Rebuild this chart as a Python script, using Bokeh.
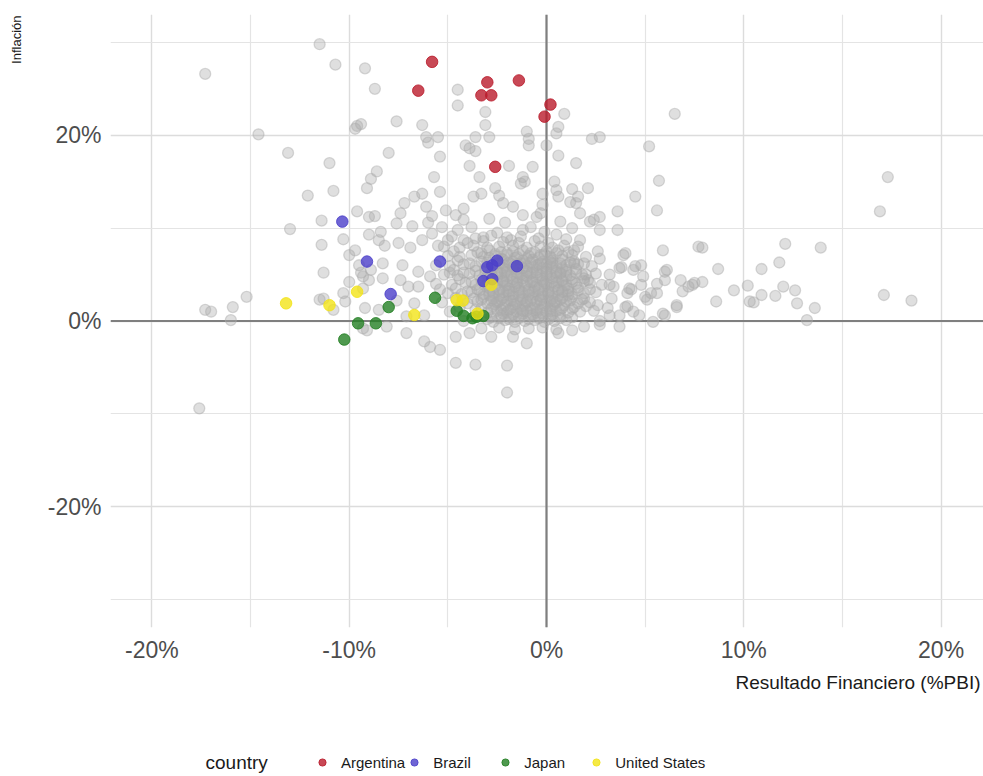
from bokeh.plotting import figure
from bokeh.layouts import column
from bokeh.models import (Range1d, FixedTicker, PrintfTickFormatter, Span, Title, Label,
                          Legend, LegendItem)
from bokeh.embed import file_html
from bokeh.resources import INLINE

# ---------------- data (x = Resultado Financiero %PBI, y = Inflación %) ----------------
argentina_x = [-5.8, -6.5, -3.0, -3.3, -2.8, -1.4, 0.2, -0.1, -2.6]
argentina_y = [27.9, 24.8, 25.7, 24.3, 24.3, 25.9, 23.3, 22.0, 16.6]

brazil_x = [-10.35, -9.1, -5.4, -7.9, -3.0, -2.75, -2.5, -1.5, -3.2, -2.75]
brazil_y = [10.7, 6.4, 6.4, 2.9, 5.8, 6.0, 6.5, 5.9, 4.3, 4.5]

japan_x = [-10.25, -9.55, -8.65, -8.0, -5.65, -4.55, -4.2, -3.75, -3.55, -3.2]
japan_y = [-2.0, -0.25, -0.25, 1.5, 2.5, 1.1, 0.55, 0.3, 0.45, 0.55]

us_x = [-13.2, -11.0, -9.6, -6.7, -4.55, -4.25, -2.8, -3.5]
us_y = [1.9, 1.7, 3.15, 0.65, 2.25, 2.2, 3.9, 0.8]

countries = ["Argentina", "Brazil", "Japan", "United States"]

# other countries (grey), grouped by region of the chart
other_left = [(-17.3, 26.6), (-11.5, 29.8), (-14.6, 20.1), (-13.1, 18.1), (-12.1, 13.5),
              (-13.0, 9.9), (-11.4, 10.8), (-10.7, 27.6), (-11.0, 17.0), (-10.8, 14.0),
              (-9.2, 27.2), (-8.7, 25.0), (-9.6, 21.0), (-9.4, 21.2), (-7.6, 21.5),
              (-8.0, 18.1), (-8.6, 16.1), (-8.9, 15.3), (-9.1, 14.3), (-9.6, 11.8),
              (-9.0, 11.2), (-8.7, 11.3), (-10.3, 8.8), (-11.4, 8.2), (-9.0, 9.3),
              (-8.5, 8.7), (-8.2, 8.1), (-10.0, 7.1), (-9.7, 7.6), (-8.3, 6.2),
              (-11.3, 5.2), (-9.3, 4.8), (-15.2, 2.6), (-15.9, 1.5), (-17.3, 1.2),
              (-17.0, 1.0), (-16.0, 0.1), (-11.5, 2.3), (-10.2, 2.1), (-10.8, 1.2),
              (-11.3, 2.4), (-17.6, -9.4), (-9.7, 20.7), (-10.0, 4.2), (-9.4, 5.2)]

other_upper = [(-4.5, 24.9), (-4.5, 23.2), (-3.1, 22.5), (-3.1, 21.1), (-6.3, 21.1),
               (-6.1, 19.8), (-6.0, 19.2), (-5.5, 19.8), (-5.4, 17.7), (-4.1, 18.9),
               (-3.9, 18.6), (-3.6, 18.3), (-3.6, 19.8), (-2.9, 19.8), (-3.4, 15.5),
               (-3.9, 16.7), (-1.9, 16.7), (-1.0, 20.4), (-0.9, 19.6), (-0.9, 18.9),
               (-0.7, 16.6), (-1.2, 15.5), (-1.3, 14.8), (-0.2, 13.7), (-0.2, 12.5),
               (-5.7, 15.5), (-5.4, 13.9), (-7.2, 12.7), (-6.7, 13.4), (-6.3, 13.7),
               (-6.1, 12.3), (-7.4, 11.6), (-7.6, 10.5), (-5.1, 11.9), (-4.2, 12.1),
               (-3.7, 13.4), (-3.3, 13.7), (-2.6, 14.3), (-2.4, 13.5), (-2.2, 12.7),
               (-1.7, 12.3), (-1.2, 11.4), (-0.5, 11.2), (-4.6, 11.4), (-4.2, 10.9),
               (-5.8, 11.3)]

other_right = [(6.5, 22.3), (0.9, 22.3), (0.5, 20.2), (0.6, 20.9), (2.3, 19.6),
               (2.7, 19.8), (5.2, 18.8), (0.0, 18.9), (0.6, 17.8), (1.5, 17.0),
               (5.7, 15.1), (-1.1, 15.0), (0.4, 15.0), (0.5, 14.1), (0.6, 13.4),
               (1.6, 13.4), (2.1, 14.3), (1.5, 12.7), (4.5, 13.4), (5.6, 11.9),
               (3.6, 11.8), (2.7, 11.2), (2.2, 10.7), (1.7, 11.6), (-0.3, 11.6),
               (2.7, 9.8), (3.6, 9.8), (5.9, 7.6), (7.7, 8.0), (3.9, 7.1),
               (4.8, 6.0), (1.9, 6.2), (3.2, 5.0), (4.4, 5.5), (4.9, 4.8),
               (6.0, 5.3), (6.8, 4.4), (7.2, 3.7), (7.5, 4.1), (5.3, 3.0),
               (6.6, 1.7), (3.4, 3.7), (4.1, 3.0), (5.0, 2.6), (4.4, 1.0),
               (3.1, 1.4), (3.7, 0.6), (2.7, -0.4), (1.2, 12.8), (1.3, 14.2)]

other_far_right = [(17.3, 15.5), (16.9, 11.8), (17.1, 2.8), (18.5, 2.2), (12.1, 8.3),
                   (13.9, 7.9), (11.8, 6.3), (10.9, 5.6), (7.9, 7.9), (8.7, 5.6),
                   (7.9, 4.2), (7.4, 3.9), (6.9, 3.2), (9.5, 3.3), (10.2, 3.8),
                   (10.9, 2.8), (10.5, 2.0), (10.3, 2.1), (11.6, 2.7), (12.0, 3.7),
                   (12.6, 3.3), (12.7, 1.9), (13.6, 1.4), (13.2, 0.1), (8.6, 2.1),
                   (6.6, 1.5), (6.0, 0.6), (5.4, -0.1), (3.7, -0.6), (2.7, 0.0),
                   (1.9, -0.6), (1.3, -1.0), (0.6, -1.3), (2.4, 10.9), (2.6, 7.5),
                   (2.7, 6.7), (3.8, 5.8), (4.2, 3.5), (5.6, 3.0), (6.1, 5.5),
                   (4.8, 3.9), (3.2, 3.9), (2.6, 1.7), (3.2, 0.6), (4.0, 1.5),
                   (5.9, 0.8), (1.4, 7.6), (1.7, 8.7), (0.7, 10.7), (1.3, 10.0),
                   (4.0, 7.3), (1.4, 6.2), (6.0, 4.4), (5.6, 4.0), (4.5, 5.9),
                   (4.3, 3.4), (5.1, 2.3), (4.7, 0.6), (4.1, 1.6), (3.3, 2.4),
                   (2.0, 5.0), (2.1, 4.4), (3.7, 5.7)]

other_negative = [(-7.1, -1.3), (-6.2, -2.2), (-5.9, -2.8), (-5.4, -3.1), (-4.6, -4.5),
                  (-3.6, -4.7), (-2.0, -4.8), (-2.0, -7.7), (-1.0, -2.4), (-1.7, -1.7),
                  (-2.8, -1.7), (-3.9, -1.3), (-4.6, -1.7), (-9.3, -0.8), (-8.1, -0.6),
                  (-9.1, -1.0)]

other_mid = [(-8.4, 9.6), (-7.5, 8.4), (-6.9, 7.9), (-6.3, 8.7), (-5.8, 9.4),
             (-5.5, 8.1), (-5.0, 8.7), (-4.5, 9.8), (-4.2, 8.7), (-3.8, 10.1),
             (-3.2, 9.0), (-2.5, 9.5), (-1.8, 8.7), (-1.2, 9.8), (-0.8, 10.1),
             (-9.5, 6.0), (-8.9, 5.5), (-9.0, 4.4), (-8.3, 4.6), (-10.3, 3.0),
             (-9.3, 3.5), (-9.2, 1.4), (-8.5, 1.2), (-7.3, 6.0), (-7.4, 4.4),
             (-7.0, 3.7), (-6.5, 5.3), (-6.5, 3.7), (-6.7, 1.9), (-7.6, 2.2),
             (-7.1, 0.5), (-6.2, 0.6), (-5.9, 4.8), (-5.4, 3.4), (-4.9, 5.2),
             (-6.8, 10.2), (-6.0, 10.6), (-5.3, 10.1), (-2.9, 11.0), (-2.1, 10.6),
             (-0.1, 9.6), (0.5, 9.3)]

other_core = [(-4.8, 9.1), (-3.6, 8.9), (-2.8, 9.2), (-2.0, 9.0), (-1.3, 9.1), (-0.4, 8.9), (1.0, 8.8),
              (-4.0, 8.4), (-3.2, 8.6), (-2.2, 8.5), (-1.4, 8.4), (-0.6, 8.6), (0.1, 8.4),
              (-5.2, 8.0), (-4.4, 7.9), (-3.7, 8.1), (-3.0, 7.9), (-2.4, 8.0), (-1.7, 8.1),
              (-1.0, 7.9), (-0.3, 8.0), (0.3, 7.9), (0.9, 8.1), (1.6, 8.0),
              (-4.7, 7.5), (-3.5, 7.4), (-2.9, 7.6), (-2.3, 7.4), (-1.7, 7.5), (-1.2, 7.6),
              (-0.6, 7.4), (0.0, 7.5), (0.6, 7.6), (1.1, 7.4),
              (-5.0, 7.0), (-4.4, 6.9), (-3.8, 7.1), (-3.2, 6.9), (-2.6, 7.0), (-2.0, 7.1),
              (-1.5, 6.9), (-0.9, 7.0), (-0.3, 7.1), (0.2, 6.9), (0.8, 7.0), (1.3, 7.1), (2.0, 6.9),
              (-4.5, 6.5), (-3.3, 6.4), (-2.2, 6.6), (-1.7, 6.4), (-1.2, 6.5), (-0.7, 6.6),
              (-0.2, 6.4), (0.3, 6.5), (0.8, 6.6), (1.4, 6.4),
              (-5.6, 6.0), (-4.9, 5.9), (-4.2, 6.1), (-3.6, 5.9), (-2.1, 6.0), (-1.5, 6.1),
              (-1.0, 5.9), (-0.5, 6.0), (0.0, 6.1), (0.5, 5.9), (1.0, 6.0), (1.6, 6.1), (2.3, 5.9),
              (-4.7, 5.5), (-3.6, 5.4), (-3.1, 5.6), (-2.5, 5.4), (-2.0, 5.5), (-1.5, 5.6),
              (-1.0, 5.4), (-0.5, 5.5), (0.0, 5.6), (0.5, 5.4), (1.0, 5.5), (1.5, 5.6),
              (-5.2, 5.0), (-4.5, 4.9), (-3.9, 5.1), (-3.4, 4.9), (-2.8, 5.0), (-2.3, 5.1),
              (-1.8, 4.9), (-1.3, 5.0), (-0.8, 5.1), (-0.3, 4.9), (0.2, 5.0), (0.7, 5.1),
              (1.2, 4.9), (1.8, 5.0), (2.5, 5.1),
              (-4.4, 4.5), (-3.3, 4.4), (-2.7, 4.6), (-2.2, 4.4), (-1.7, 4.5), (-1.2, 4.6),
              (-0.7, 4.4), (-0.2, 4.5), (0.3, 4.6), (0.8, 4.4), (1.3, 4.5), (1.9, 4.6),
              (-5.6, 4.0), (-4.8, 3.9), (-4.1, 4.1), (-3.6, 3.9), (-3.0, 4.0), (-2.5, 4.1),
              (-2.0, 3.9), (-1.5, 4.0), (-1.0, 4.1), (-0.5, 3.9), (0.0, 4.0), (0.5, 4.1),
              (1.0, 3.9), (1.5, 4.0), (2.2, 4.1), (2.8, 3.9),
              (-4.6, 3.5), (-3.5, 3.4), (-2.9, 3.6), (-2.4, 3.4), (-1.9, 3.5), (-1.4, 3.6),
              (-0.9, 3.4), (-0.4, 3.5), (0.1, 3.6), (0.6, 3.4), (1.1, 3.5), (1.6, 3.6), (2.2, 3.4),
              (-5.0, 3.0), (-4.3, 2.9), (-3.8, 3.1), (-3.2, 2.9), (-2.7, 3.0), (-2.2, 3.1),
              (-1.7, 2.9), (-1.2, 3.0), (-0.7, 3.1), (-0.2, 2.9), (0.3, 3.0), (0.8, 3.1),
              (1.3, 2.9), (1.9, 3.0), (2.5, 3.1),
              (-4.6, 2.5), (-3.7, 2.4), (-3.2, 2.6), (-2.7, 2.4), (-2.2, 2.5), (-1.7, 2.6),
              (-1.2, 2.4), (-0.7, 2.5), (-0.2, 2.6), (0.3, 2.4), (0.8, 2.5), (1.3, 2.6), (1.9, 2.4),
              (-5.3, 2.0), (-4.0, 1.9), (-3.5, 2.1), (-3.0, 1.9), (-2.5, 2.0), (-2.0, 2.1),
              (-1.5, 1.9), (-1.0, 2.0), (-0.5, 2.1), (0.0, 1.9), (0.5, 2.0), (1.0, 2.1),
              (1.6, 1.9), (2.2, 2.0),
              (-4.4, 1.5), (-3.3, 1.4), (-2.7, 1.6), (-2.2, 1.4), (-1.7, 1.5), (-1.2, 1.6),
              (-0.7, 1.4), (-0.2, 1.5), (0.3, 1.6), (0.8, 1.4), (1.4, 1.5), (2.0, 1.6),
              (-4.9, 1.0), (-3.0, 0.9), (-2.5, 1.1), (-2.0, 0.9), (-1.5, 1.0), (-1.0, 1.1),
              (-0.5, 0.9), (0.0, 1.0), (0.5, 1.1), (1.1, 0.9), (1.7, 1.0), (2.4, 1.1),
              (-3.6, 0.5), (-2.8, 0.4), (-2.3, 0.6), (-1.8, 0.4), (-1.3, 0.5), (-0.8, 0.6),
              (-0.3, 0.4), (0.2, 0.5), (0.7, 0.6), (1.3, 0.4),
              (-4.2, 0.0), (-2.7, -0.1), (-2.1, 0.1), (-1.6, -0.1), (-1.1, 0.0), (-0.6, 0.1),
              (-0.1, -0.1), (0.4, 0.0), (1.0, 0.1),
              (-3.3, -0.8), (-2.4, -0.7), (-1.6, -0.9), (-0.9, -0.8), (-0.2, -0.7), (0.5, -0.9)]

other_core_dense = [(-3.3, 7.3), (-2.6, 7.2), (-2.0, 7.3), (-1.4, 7.2), (-0.8, 7.3), (-0.1, 7.2), (0.5, 7.3),
                    (-3.9, 6.2), (-3.0, 6.3), (-2.4, 6.2), (-1.9, 6.3), (-1.3, 6.2), (-0.8, 6.3),
                    (-0.3, 6.2), (0.2, 6.3), (0.7, 6.2), (1.2, 6.3),
                    (-4.2, 5.2), (-3.1, 5.3), (-2.5, 5.2), (-2.0, 5.3), (-1.5, 5.2), (-1.0, 5.3),
                    (-0.5, 5.2), (0.0, 5.3), (0.5, 5.2), (1.0, 5.3), (1.5, 5.2),
                    (-3.8, 4.2), (-3.2, 4.3), (-2.7, 4.2), (-2.2, 4.3), (-1.7, 4.2), (-1.2, 4.3),
                    (-0.7, 4.2), (-0.2, 4.3), (0.3, 4.2), (0.8, 4.3), (1.3, 4.2), (1.9, 4.3),
                    (-4.0, 3.2), (-3.4, 3.3), (-2.9, 3.2), (-2.4, 3.3), (-1.9, 3.2), (-1.4, 3.3),
                    (-0.9, 3.2), (-0.4, 3.3), (0.1, 3.2), (0.6, 3.3), (1.1, 3.2), (1.6, 3.3),
                    (-4.2, 2.2), (-3.3, 2.3), (-2.8, 2.2), (-2.3, 2.3), (-1.8, 2.2), (-1.3, 2.3),
                    (-0.8, 2.2), (-0.3, 2.3), (0.2, 2.2), (0.7, 2.3), (1.2, 2.2), (1.8, 2.3),
                    (-3.6, 1.2), (-2.8, 1.3), (-2.3, 1.2), (-1.8, 1.3), (-1.3, 1.2), (-0.8, 1.3),
                    (-0.3, 1.2), (0.2, 1.3), (0.7, 1.2), (1.3, 1.3),
                    (-3.0, 0.2), (-2.4, 0.3), (-1.9, 0.2), (-1.4, 0.3), (-0.9, 0.2), (-0.4, 0.3),
                    (0.1, 0.2), (0.7, 0.3)]

other_center = [(-2.9, 6.8), (-2.3, 6.7), (-1.6, 6.8), (-1.0, 6.7), (-0.4, 6.8), (0.2, 6.7),
                (-2.7, 5.8), (-2.2, 5.7), (-1.7, 5.8), (-1.2, 5.7), (-0.7, 5.8), (-0.2, 5.7), (0.3, 5.8), (0.8, 5.7),
                (-3.0, 4.8), (-2.5, 4.7), (-2.0, 4.8), (-1.5, 4.7), (-1.0, 4.8), (-0.5, 4.7), (0.0, 4.8), (0.5, 4.7), (1.0, 4.8),
                (-3.1, 3.8), (-2.6, 3.7), (-2.1, 3.8), (-1.6, 3.7), (-1.1, 3.8), (-0.6, 3.7), (-0.1, 3.8), (0.4, 3.7), (0.9, 3.8),
                (-2.9, 2.8), (-2.4, 2.7), (-1.9, 2.8), (-1.4, 2.7), (-0.9, 2.8), (-0.4, 2.7), (0.1, 2.8), (0.6, 2.7), (1.1, 2.8),
                (-2.6, 1.8), (-2.1, 1.7), (-1.6, 1.8), (-1.1, 1.7), (-0.6, 1.8), (-0.1, 1.7), (0.4, 1.8), (0.9, 1.7),
                (-2.2, 0.8), (-1.7, 0.7), (-1.2, 0.8), (-0.7, 0.7), (-0.2, 0.8), (0.3, 0.7)]

other_center_inner = [(-2.5, 6.2), (-1.8, 6.1), (-1.1, 6.2), (-0.4, 6.1), (0.3, 6.2),
                      (-2.8, 5.1), (-2.1, 5.2), (-1.4, 5.1), (-0.7, 5.2), (0.0, 5.1), (0.7, 5.2),
                      (-2.9, 4.1), (-2.2, 4.2), (-1.5, 4.1), (-0.8, 4.2), (-0.1, 4.1), (0.6, 4.2),
                      (-2.7, 3.1), (-2.0, 3.2), (-1.3, 3.1), (-0.6, 3.2), (0.1, 3.1), (0.8, 3.2),
                      (-2.4, 2.1), (-1.7, 2.2), (-1.0, 2.1), (-0.3, 2.2), (0.4, 2.1),
                      (-1.9, 1.2), (-1.2, 1.1), (-0.5, 1.2), (0.2, 1.1)]

x_ticks = [-20, -10, 0, 10, 20]
x_minor = [-15, -5, 5, 15]
y_ticks = [-20, 0, 20]
y_minor = [-30, -10, 10, 30]

# ---------------- main figure ----------------
FONT = "Liberation Sans"
colors = ["#BA1B2C", "#4B3FC9", "#237F23", "#F2E318"]

p = figure(width=983, height=736, output_backend="svg", toolbar_location=None,
           x_range=Range1d(-22.1, 22.15), y_range=Range1d(-33, 33),
           min_border_left=110, min_border_right=0, min_border_top=14, min_border_bottom=109)
p.outline_line_color = None
p.background_fill_color = "white"
p.border_fill_color = "white"

p.xaxis.ticker = FixedTicker(ticks=x_ticks, minor_ticks=x_minor)
p.yaxis.ticker = FixedTicker(ticks=y_ticks, minor_ticks=y_minor)
for ax in (p.xaxis[0], p.yaxis[0]):
    ax.formatter = PrintfTickFormatter(format="%d%%")
    ax.axis_line_color = None
    ax.major_tick_line_color = None
    ax.minor_tick_line_color = None
    ax.major_tick_out = 0
    ax.major_tick_in = 0
    ax.minor_tick_out = 0
    ax.minor_tick_in = 0
    ax.major_label_text_font = FONT
    ax.major_label_text_font_size = "23px"
    ax.major_label_text_color = "#4D4D4D"
p.xaxis.major_label_standoff = 9
p.yaxis.major_label_standoff = 9
# blank axis label used only as a spacer so the side title sits at the outer edge
p.yaxis.axis_label = " "
p.yaxis.axis_label_text_font_size = "13px"
p.yaxis.axis_label_standoff = 1

for g in (p.xgrid[0], p.ygrid[0]):
    g.grid_line_color = "#DCDCDC"
    g.grid_line_width = 1.4
    g.minor_grid_line_color = "#E4E4E4"
    g.minor_grid_line_width = 1.2

p.add_layout(Span(location=0, dimension="width", line_color="#7F7F7F",
                  line_width=2.2, level="underlay"))
p.add_layout(Span(location=0, dimension="height", line_color="#7F7F7F",
                  line_width=2.2, level="underlay"))

others = (other_left + other_upper + other_right + other_far_right + other_negative
          + other_mid + other_core + other_core_dense + other_center + other_center_inner)
ox = [pt[0] for pt in others]
oy = [pt[1] for pt in others]
p.scatter(ox, oy, size=11, fill_color="#ABABAB", fill_alpha=0.38,
          line_color="#ABABAB", line_alpha=0.45, line_width=1.3)

series = [(argentina_x, argentina_y), (brazil_x, brazil_y), (japan_x, japan_y), (us_x, us_y)]
for (xs, ys), c in zip(series, colors):
    p.scatter(xs, ys, size=11.5, fill_color=c, fill_alpha=0.8,
              line_color=c, line_alpha=0.85, line_width=1)

ytitle = Title(text="Inflación", align="right", text_font=FONT, text_font_size="13px",
               text_font_style="normal", text_color="#1A1A1A", standoff=4, offset=1)
p.add_layout(ytitle, "left")
xtitle = Title(text="Resultado Financiero (%PBI)", align="right", vertical_align="top",
               text_font=FONT, text_font_size="19px", text_font_style="normal",
               text_color="#1A1A1A", standoff=12, offset=3)
p.add_layout(xtitle, "below")

# ---------------- legend strip (keys use the same series, outside its view range) ----------------
lg = figure(width=983, height=40, output_backend="svg", toolbar_location=None,
            x_axis_type=None, y_axis_type=None,
            x_range=Range1d(100, 101), y_range=Range1d(100, 101), min_border=0)
lg.outline_line_color = None
lg.background_fill_color = "white"
lg.border_fill_color = "white"
items = []
for name, (xs, ys), c in zip(countries, series, colors):
    r = lg.scatter(xs, ys, size=8, fill_color=c, fill_alpha=0.8,
                   line_color=c, line_alpha=0.85, line_width=1)
    items.append(LegendItem(label=name, renderers=[r]))
legend = Legend(items=items, orientation="horizontal", location=(203, 4),
                glyph_width=18, glyph_height=20, label_height=20, label_standoff=10,
                label_width=63, spacing=0, padding=0, margin=0, border_line_color=None,
                background_fill_alpha=0, label_text_font=FONT,
                label_text_font_size="15px", label_text_color="#1A1A1A")
lg.add_layout(legend)
lg.add_layout(Label(x=95, y=14, x_units="screen", y_units="screen", text="country",
                    text_align="left", text_baseline="middle", text_font=FONT,
                    text_font_size="19px", text_color="#1A1A1A"))

open("out.html", "w").write(file_html(column(p, lg), INLINE))
